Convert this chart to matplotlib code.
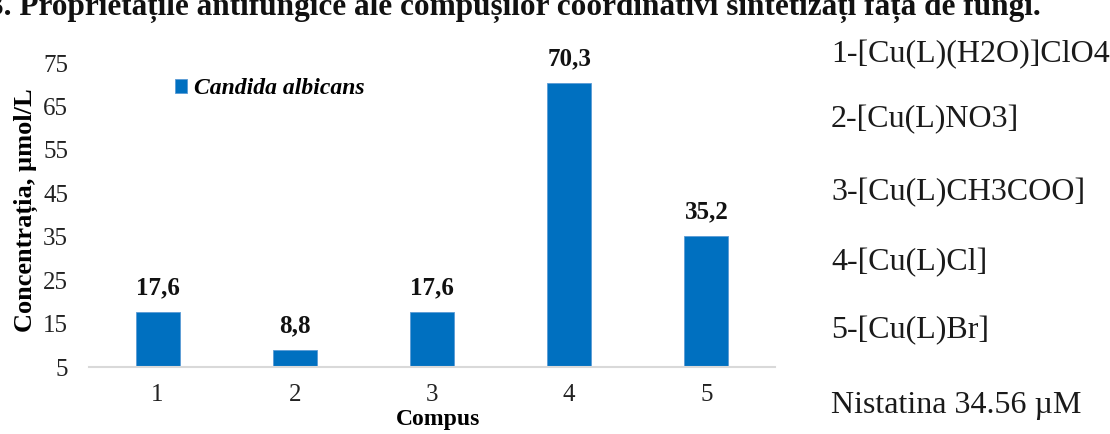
import matplotlib.pyplot as plt

# date: concentratia minima fata de Candida albicans
compusi = ["1", "2", "3", "4", "5"]
valori = [17.6, 8.8, 17.6, 70.3, 35.2]
etichete = ["17,6", "8,8", "17,6", "70,3", "35,2"]
yticks = [5, 15, 25, 35, 45, 55, 65, 75]
legenda = [
    "1-[Cu(L)(H2O)]ClO4",
    "2-[Cu(L)NO3]",
    "3-[Cu(L)CH3COO]",
    "4-[Cu(L)Cl]",
    "5-[Cu(L)Br]",
    "Nistatina 34.56 \u00b5M",
]
titlu = "3. Proprietățile antifungice ale compușilor coordinativi sintetizați față de fungi."

plt.rcParams['font.family'] = ['Liberation Serif', 'DejaVu Serif']

W, H = 1110, 434
fig = plt.figure(figsize=(W / 100, H / 100), dpi=100)
ax = fig.add_axes([89 / W, (H - 367) / H, (775 - 89) / W, (367 - 63) / H])

x = list(range(len(compusi)))
ax.bar(x, valori, width=0.32, color='#0070C0', edgecolor='#5b9bd5',
       linewidth=0.6, label='Candida albicans')

for xi, v, t in zip(x, valori, etichete):
    ax.text(xi, v + 3.0, t, ha='center', va='bottom', fontsize=18,
            fontweight='bold', color='#111111')

ax.set_xlim(-0.5, len(compusi) - 0.5)
ax.set_ylim(5, 75)
ax.set_yticks(yticks)
ax.set_xticks(x)
ax.set_xticklabels(compusi)
ax.tick_params(axis='both', length=0, labelsize=18, colors='#222222')
ax.tick_params(axis='x', pad=12)
ax.tick_params(axis='y', pad=15)

for s in ['top', 'right', 'left']:
    ax.spines[s].set_visible(False)
ax.spines['bottom'].set_color('#d9d9d9')
ax.spines['bottom'].set_linewidth(1.5)

ax.set_ylabel("Concentrația, \u00b5mol/L", fontsize=19, fontweight='bold')
ax.yaxis.set_label_coords(-63 / (775 - 89), (367 - 210) / (367 - 63))
ax.yaxis.label.set_horizontalalignment('center')
ax.yaxis.label.set_verticalalignment('center')
ax.yaxis.set_label_coords(-(89 - 26) / (775 - 89), (367 - 210) / (367 - 63))
ax.set_xlabel("Compus", fontsize=17, fontweight='bold')
ax.xaxis.set_label_coords(349 / (775 - 89), -(419 - 367) / (367 - 63))
ax.xaxis.label.set_verticalalignment('center')

ax.legend(loc='center left', bbox_to_anchor=(163 / W, 1 - 89 / H),
          bbox_transform=fig.transFigure, frameon=False, borderpad=0,
          handlelength=0.52, handleheight=0.52, handletextpad=0.28,
          prop={'size': 17, 'weight': 'bold', 'style': 'italic'})

# lista compusilor in dreapta
ys = [55, 120, 193, 263, 331, 405]
for yy, t in zip(ys, legenda):
    fig.text(831 / W, 1 - yy / H, t, ha='left', va='center', fontsize=23,
             color='#1a1a1a')

fig.text(-12 / W, 1 - 15 / H, titlu, ha='left', va='baseline', fontsize=22.5,
         fontweight='bold', color='#111111')

fig.savefig('out.png', dpi=100)
